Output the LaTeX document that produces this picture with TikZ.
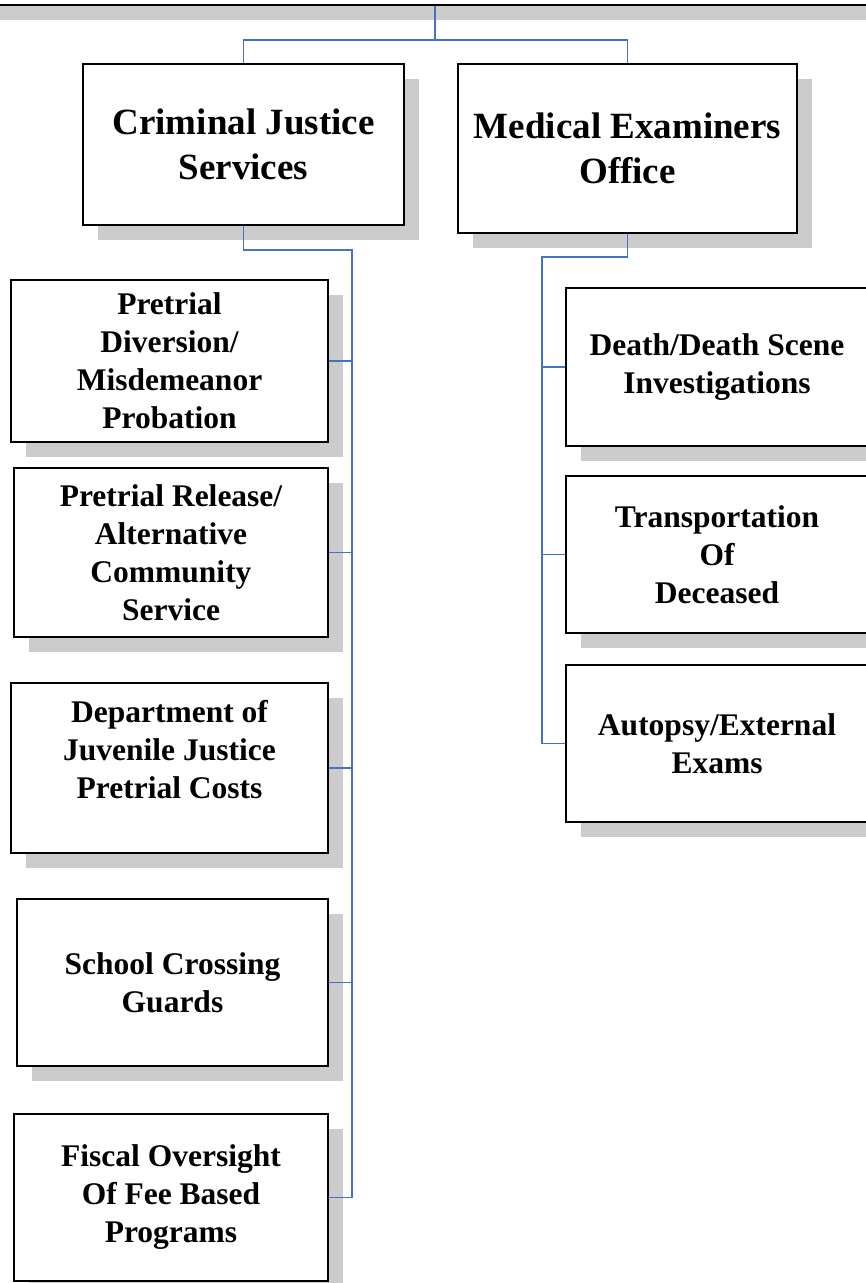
\documentclass[tikz,border=0pt]{standalone}
\usepackage{fontspec}
\setmainfont{Liberation Serif}
\usepackage{tikz}
\usetikzlibrary{shadows}
\definecolor{linkblue}{HTML}{4472C4}

\begin{document}
\begin{tikzpicture}[x=1pt,y=-1pt]

	\tikzstyle{orgbox}=[draw,line width=1.5pt,fill=white,align=center,inner sep=0pt,
		font=\bfseries\fontsize{31.5}{38}\selectfont,
		drop shadow={shadow xshift=15pt,shadow yshift=-15pt,fill=black!20,opacity=1}]
	\tikzstyle{headbox}=[orgbox,font=\bfseries\fontsize{37}{45}\selectfont]
	\tikzstyle{link}=[draw=linkblue,line width=1.6pt]

	\useasboundingbox (0,0) rectangle (866,1283);

	\node[orgbox,minimum width=1100,minimum height=100] (root) at (435,-45) {};

	\node[headbox,minimum width=321,minimum height=161] (cjs) at (243.5,144.5) {Criminal Justice\\Services};
	\node[headbox,minimum width=339,minimum height=169] (meo) at (627.5,148.5) {Medical Examiners\\Office};

	\node[orgbox,minimum width=317,minimum height=162] (pdiv) at (169.5,361) {Pretrial\\Diversion/\\Misdemeanor\\Probation};
	\node[orgbox,minimum width=314,minimum height=169] (prel) at (171,552.5) {Pretrial Release/\\Alternative\\Community\\Service};
	\node[orgbox,minimum width=317,minimum height=170] (djj) at (169.5,768) {Department of\\Juvenile Justice\\Pretrial Costs\\\mbox{}};
	\node[orgbox,minimum width=311,minimum height=167] (scg) at (172.5,982.5) {School Crossing\\Guards};
	\node[orgbox,minimum width=314,minimum height=167] (fob) at (171,1197.5) {Fiscal Oversight\\Of Fee Based\\Programs};

	\node[orgbox,minimum width=302,minimum height=158] (death) at (717,367) {Death/Death Scene\\Investigations};
	\node[orgbox,minimum width=302,minimum height=157] (trans) at (717,554.5) {Transportation\\Of\\Deceased};
	\node[orgbox,minimum width=302,minimum height=157] (autop) at (717,743.5) {Autopsy/External\\Exams};

	% top split
	\coordinate (split) at (435,40);
	\draw[link] (root.south) -- (split) -| (cjs.north);
	\draw[link] (split) -| (meo.north);

	% left bus
	\coordinate (lbus) at (352,250);
	\draw[link] (cjs.south) |- (lbus) -- (lbus |- fob.east);
	\foreach \n in {pdiv,prel,djj,scg,fob} { \draw[link] (\n.east) -- (\n.east -| lbus);}

	% right bus
	\coordinate (rbus) at (542,257);
	\draw[link] (meo.south) |- (rbus) -- (rbus |- autop.west);
	\foreach \n in {death,trans,autop} { \draw[link] (\n.west) -- (\n.west -| rbus);}
\end{tikzpicture}
\end{document}
